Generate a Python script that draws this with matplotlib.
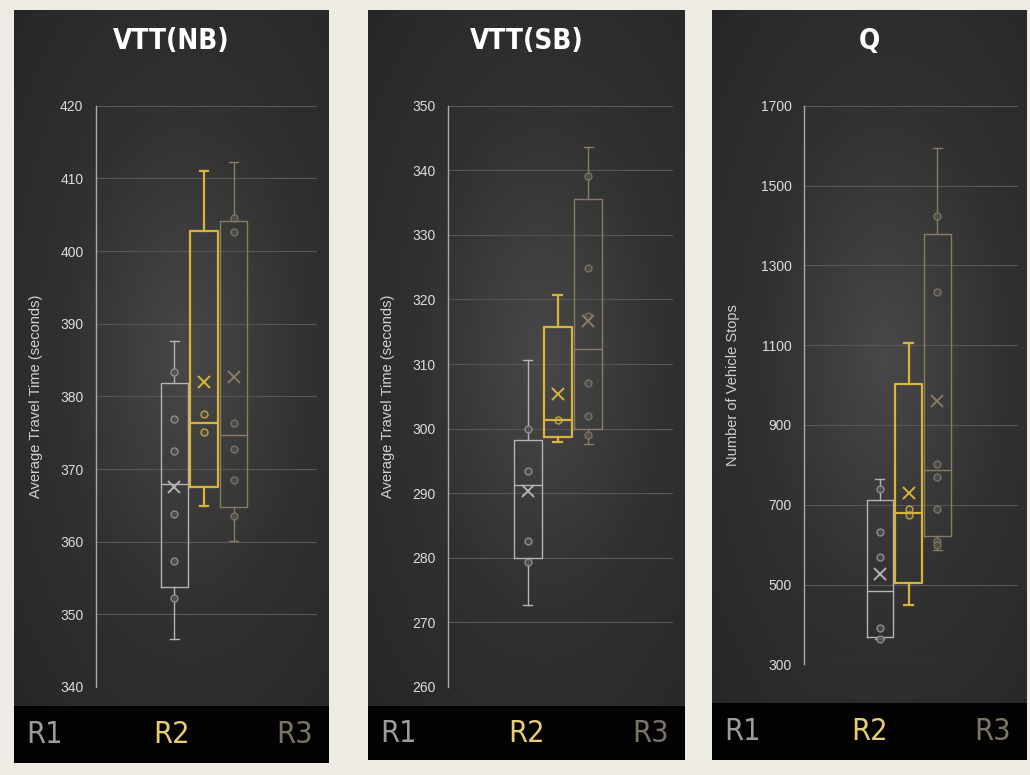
import numpy as np
import matplotlib
matplotlib.use("Agg")
import matplotlib.pyplot as plt
from matplotlib.colors import LinearSegmentedColormap

# ---- data ----
titles = ["VTT(NB)", "VTT(SB)", "Q"]
ylabels = ["Average Travel Time (seconds)", "Average Travel Time (seconds)",
           "Number of Vehicle Stops"]
series = ["R1", "R2", "R3"]

nb_q1 = [353.7, 367.5, 364.8]
nb_median = [368.0, 376.4, 374.7]
nb_q3 = [381.9, 402.7, 404.2]
nb_low = [346.6, 364.9, 360.1]
nb_high = [387.6, 411.0, 412.2]
nb_mean = [367.5, 382.0, 382.6]
nb_points = [[383.4, 376.9, 372.5, 363.8, 357.3, 352.2],
             [377.6, 375.1],
             [404.6, 402.6, 376.3, 372.8, 368.5, 363.5]]

sb_q1 = [279.9, 298.7, 300.0]
sb_median = [291.2, 301.4, 312.3]
sb_q3 = [298.3, 315.8, 335.6]
sb_low = [272.7, 298.0, 297.6]
sb_high = [310.6, 320.7, 343.6]
sb_mean = [290.3, 305.4, 316.6]
sb_points = [[300.0, 293.5, 282.6, 279.4],
             [301.4],
             [339.1, 324.9, 317.5, 307.1, 301.9, 299.0]]

q_q1 = [369.4, 504.0, 622.0]
q_median = [484.3, 679.5, 786.5]
q_q3 = [711.2, 1003.5, 1378.0]
q_low = [362.4, 449.6, 587.3]
q_high = [765.7, 1105.5, 1594.0]
q_mean = [525.9, 729.0, 959.9]
q_points = [[738.9, 632.0, 568.5, 392.2, 362.4],
            [689.4, 674.5],
            [1424.6, 1234.3, 803.3, 770.6, 689.4, 610.1, 600.0]]

nb_ticks = np.arange(340, 421, 10)
sb_ticks = np.arange(260, 351, 10)
q_ticks = np.arange(300, 1701, 200)

# ---- styling ----
plt.rcParams['font.family'] = ['Liberation Sans', 'DejaVu Sans']
cond = ['DejaVu Sans', 'Liberation Sans']

series_colors = ['#b4b4b4', '#d8b43a', '#8a7c62']
label_colors = ['#9c9c9c', '#e6cc72', '#7c7566']
point_colors = ['#9a9a9a', '#d8b43a', '#857a64']
line_widths = [1.0, 1.6, 1.0]

W, H = 1030, 775
fig = plt.figure(figsize=(W / 100, H / 100), dpi=100, facecolor='#eeebe4')


def px_rect(x0, y0, x1, y1):
    # pixel box (top-left origin) -> figure fraction rect
    return [x0 / W, 1 - y1 / H, (x1 - x0) / W, (y1 - y0) / H]


panels = [
    dict(x0=14, x1=329, dark_bottom=706, bar_bottom=763,
         plot=(96, 105.7, 317, 687), ylab_x=-0.24),
    dict(x0=368, x1=685, dark_bottom=706, bar_bottom=760,
         plot=(448, 105.7, 673, 687), ylab_x=-0.235),
    dict(x0=712, x1=1027, dark_bottom=703, bar_bottom=760,
         plot=(804, 105.7, 1018, 664.4), ylab_x=-0.30),
]

grad_cmap = LinearSegmentedColormap.from_list('panel', ['#484848', '#313131', '#272727'])
gx, gy = np.meshgrid(np.linspace(0, 1, 200), np.linspace(0, 1, 400))
rad = np.sqrt(((gx - 0.55) / 0.8) ** 2 + ((gy - 0.5) / 0.75) ** 2)
rad = np.clip(rad, 0, 1)

stats_sets = [
    (nb_q1, nb_median, nb_q3, nb_low, nb_high, nb_mean, nb_points, nb_ticks),
    (sb_q1, sb_median, sb_q3, sb_low, sb_high, sb_mean, sb_points, sb_ticks),
    (q_q1, q_median, q_q3, q_low, q_high, q_mean, q_points, q_ticks),
]

positions = [1, 2, 3]

for p, title, ylabel, stats in zip(panels, titles, ylabels, stats_sets):
    q1, med, q3, low, high, mean, pts, ticks = stats

    # dark panel with soft radial gradient
    bg = fig.add_axes(px_rect(p['x0'], 10, p['x1'], p['dark_bottom']), zorder=0)
    bg.imshow(rad, cmap=grad_cmap, aspect='auto', extent=(0, 1, 0, 1))
    bg.set_axis_off()

    # black legend strip
    bar = fig.add_axes(px_rect(p['x0'], p['dark_bottom'], p['x1'], p['bar_bottom']), zorder=0)
    bar.set_facecolor('#030303')
    bar.set_xticks([])
    bar.set_yticks([])
    for s in bar.spines.values():
        s.set_visible(False)
    bar.set_xlim(0, 1)
    bar.set_ylim(0, 1)
    for xx, ha, name, col in zip([0.04, 0.5, 0.95], ['left', 'center', 'right'],
                                 series, label_colors):
        bar.text(xx, 0.5, name, color=col, family=cond, fontstretch='condensed',
                 fontsize=22, ha=ha, va='center')

    bg.text(0.5, 0.955, title, transform=bg.transAxes, color='white',
            family=cond, fontstretch='condensed', fontsize=20,
            fontweight='bold', ha='center', va='center')

    # plot area
    ax = fig.add_axes(px_rect(*p['plot']), zorder=2)
    ax.set_facecolor('none')
    for i in range(3):
        st = [dict(q1=q1[i], med=med[i], q3=q3[i], whislo=low[i], whishi=high[i],
                   mean=mean[i], fliers=[])]
        c = series_colors[i]
        lw = line_widths[i]
        ax.bxp(st, positions=[positions[i]], widths=0.92, capwidths=0.3,
               showmeans=True, showfliers=False,
               boxprops=dict(color=c, linewidth=lw),
               whiskerprops=dict(color=c, linewidth=lw),
               capprops=dict(color=c, linewidth=lw),
               medianprops=dict(color=c, linewidth=lw),
               meanprops=dict(marker='x', markeredgecolor=c, markersize=9,
                              markeredgewidth=1.4))
        ax.plot([positions[i]] * len(pts[i]), pts[i], linestyle='none', marker='o',
                markersize=5, markerfacecolor='#4e4e4e', markeredgecolor=point_colors[i],
                markeredgewidth=1.0, alpha=0.85)

    ax.set_xlim(-1.63, 5.8)
    ax.set_ylim(ticks[0], ticks[-1])
    ax.set_yticks(ticks)
    ax.set_xticks([])
    ax.grid(axis='y', color='#575757', linewidth=0.8)
    ax.set_axisbelow(True)
    for side in ['top', 'right', 'bottom']:
        ax.spines[side].set_visible(False)
    ax.spines['left'].set_color('#a9a9a9')
    ax.spines['left'].set_linewidth(1.0)
    ax.tick_params(axis='y', length=0, pad=9, labelsize=10, labelcolor='#dcdcdc')
    ax.set_ylabel(ylabel, color='#d2d2d2', fontsize=10.5)
    ax.yaxis.set_label_coords(p['ylab_x'], 0.5)

fig.savefig('out.png', dpi=100, facecolor=fig.get_facecolor())
